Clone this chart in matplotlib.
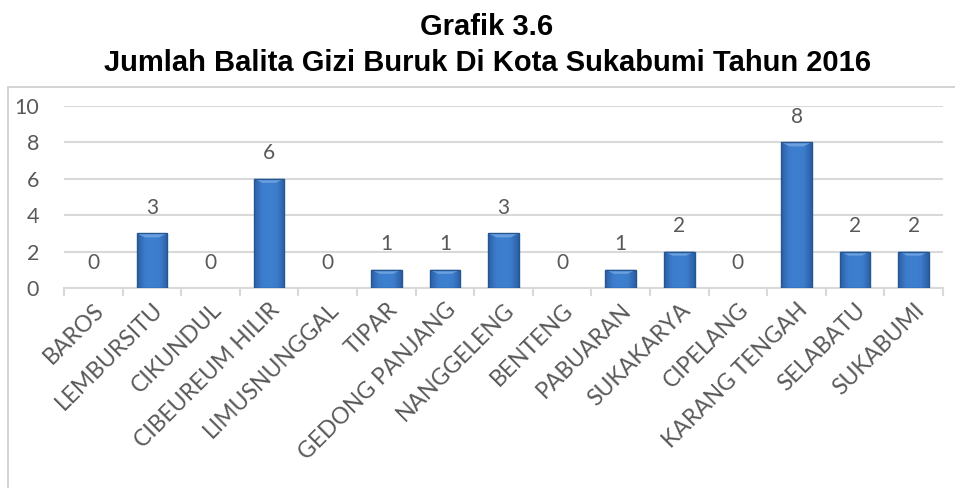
import matplotlib.pyplot as plt
from matplotlib.patches import Rectangle, Polygon
from matplotlib.colors import LinearSegmentedColormap
import numpy as np

# data
kelurahan = ['BAROS', 'LEMBURSITU', 'CIKUNDUL', 'CIBEUREUM HILIR', 'LIMUSNUNGGAL',
             'TIPAR', 'GEDONG PANJANG', 'NANGGELENG', 'BENTENG', 'PABUARAN',
             'SUKAKARYA', 'CIPELANG', 'KARANG TENGAH', 'SELABATU', 'SUKABUMI']
jumlah = [0, 3, 0, 6, 0, 1, 1, 3, 0, 1, 2, 0, 8, 2, 2]
y_ticks = [0, 2, 4, 6, 8, 10]

title_1 = 'Grafik 3.6'
title_2 = 'Jumlah Balita Gizi Buruk Di Kota Sukabumi Tahun 2016'

text_gray = '#595959'
grid_gray = '#D9D9D9'
bar_edge = '#24568F'
bar_cmap = LinearSegmentedColormap.from_list(
    'bar', ['#2B5FA3', '#3C7CCB', '#3E80D0', '#3C7CCB', '#2B5FA3'])

fig = plt.figure(figsize=(9.55, 4.88), dpi=100)

# chart area border
fig.patches.append(Rectangle((8 / 955, -0.1), 1.1, 1 - 87 / 488 + 0.1,
                             transform=fig.transFigure, fill=False,
                             edgecolor='#D0D0D0', lw=1.3, zorder=5))

fig.text(0.51, 1 - 35 / 488, title_1, ha='center', va='baseline', fontsize=21,
         fontweight='bold', family='Liberation Sans')
fig.text(0.51, 1 - 71 / 488, title_2, ha='center', va='baseline', fontsize=21,
         fontweight='bold', family='Liberation Sans')

ax = fig.add_axes([64 / 955, 1 - 288 / 488, (943 - 64) / 955, (288 - 106) / 488])

x = np.arange(len(kelurahan))
bars = ax.bar(x, jumlah, width=0.52, color='#3573BD', linewidth=0, zorder=3)

# gradient fill and light bevel on top of each bar
grad = np.linspace(0, 1, 64).reshape(1, -1)
for b in bars:
    h = b.get_height()
    if h > 0:
        x0 = b.get_x()
        w = b.get_width()
        im = ax.imshow(grad, cmap=bar_cmap, aspect='auto', zorder=3.5,
                       extent=[x0, x0 + w, 0, h], interpolation='bilinear')
        im.set_clip_path(b)
        d = min(0.22, h * 0.25)
        ax.add_patch(Polygon([[x0, h], [x0 + w, h], [x0 + w * 0.72, h - d],
                              [x0 + w * 0.28, h - d]], closed=True,
                             facecolor='#6A9FE0', edgecolor='none', zorder=4))
        ax.add_patch(Rectangle((x0, 0), w, h, fill=False, edgecolor=bar_edge,
                               lw=1, zorder=4.5))

for xi, v in zip(x, jumlah):
    ax.text(xi, v + 0.85, str(v), ha='center', va='bottom', fontsize=15,
            color=text_gray, family='Lato')

ax.set_xlim(-0.5, len(kelurahan) - 0.5)
ax.set_ylim(0, 10)
ax.set_yticks(y_ticks)
ax.set_yticklabels([str(t) for t in y_ticks], fontsize=15.5, color=text_gray,
                   family='Lato')
ax.tick_params(axis='y', length=0, pad=18)
ax.yaxis.grid(True, color=grid_gray, lw=1.5, zorder=0)

ax.set_xticks(x)
ax.set_xticklabels(kelurahan, rotation=45, ha='right', rotation_mode='anchor',
                   fontsize=16.5, color=text_gray, family='Lato')
ax.set_xticks(np.arange(-0.5, len(kelurahan), 1), minor=True)
ax.tick_params(axis='x', which='major', length=0, pad=8)
ax.tick_params(axis='x', which='minor', length=6, color=grid_gray, width=1.5)

for s in ['top', 'right', 'left']:
    ax.spines[s].set_visible(False)
ax.spines['bottom'].set_color(grid_gray)
ax.spines['bottom'].set_linewidth(1.5)

fig.savefig('out.png', dpi=100)
